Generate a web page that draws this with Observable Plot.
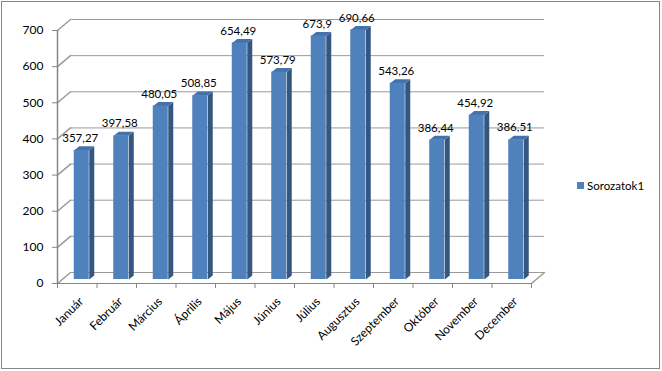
<!DOCTYPE html>
<html>
<head>
<meta charset="utf-8">
<script src="https://cdn.jsdelivr.net/npm/d3@7"></script>
<script src="https://cdn.jsdelivr.net/npm/@observablehq/plot@0.6"></script>
<style>
  html, body { margin: 0; padding: 0; background: #fff; }
  #wrap { position: relative; width: 662px; height: 371px; overflow: hidden; }
  #border { position: absolute; left: 1px; top: 1px; width: 657px; height: 366px; border: 1px solid #868686; }
  #chart { position: absolute; left: 0; top: 0; }
  #legend { position: absolute; left: 577px; top: 179px; font: 11.5px Lato, sans-serif; color: #000; display: flex; align-items: center; }
  #legend .sw { width: 7px; height: 7px; background: #4f81bd; margin-right: 3px; }
</style>
</head>
<body>
<div id="wrap">
  <div id="border"></div>
  <div id="chart"></div>
  <div id="legend"><span class="sw"></span><span>Sorozatok1</span></div>
</div>
<script>
const months = ["Január", "Február", "Március", "Április", "Május", "Június", "Július", "Augusztus", "Szeptember", "Október", "November", "December"];
const values = [357.27, 397.58, 480.05, 508.85, 654.49, 573.79, 673.9, 690.66, 543.26, 386.44, 454.92, 386.51];
const yTicks = [0, 100, 200, 300, 400, 500, 600, 700];
const seriesName = "Sorozatok1";

const data = months.map((m, i) => ({month: m, value: values[i]}));

const W = 662, H = 371, mL = 57, mR = 131, mT = 30, mB = 88;
const step = (W - mL - mR) / months.length;
const plotH = H - mT - mB;
const padIn = 0.62;
const bw = step * (1 - padIn);
const wall = [13, -11];          // depth of walls (px)
const wallLen = Math.hypot(wall[0], wall[1]);
const wallAngle = Math.atan2(wall[0], -wall[1]) * 180 / Math.PI;
const barOff = [4.5, -4];        // bar front face offset from front plane
const bd = [5, -4];              // bar depth
const tickLen = 5;

const gridColor = "#9a9a9a";
const axisColor = "#868686";
const frontColor = "#4f81bd";
const topColor = "#4472ad";
const sideColor = "#34577f";

const lineShape = {draw(ctx, l) { ctx.moveTo(0, 0); ctx.lineTo(0, -l); }};
const sideShape = {draw(ctx, l) {
  ctx.moveTo(0, 0); ctx.lineTo(0, -l); ctx.lineTo(bd[0], -l + bd[1]); ctx.lineTo(bd[0], bd[1]); ctx.closePath();
}};
const topShape = {draw(ctx) {
  ctx.moveTo(-bw / 2, 0); ctx.lineTo(-bw / 2 + bd[0], bd[1]); ctx.lineTo(bw / 2 + bd[0], bd[1]); ctx.lineTo(bw / 2, 0); ctx.closePath();
}};

const yMax = yTicks[yTicks.length - 1];
const tickBelow = -tickLen / plotH * yMax;

document.getElementById("legend").lastElementChild.textContent = seriesName;

const chart = Plot.plot({
  width: W, height: H,
  marginLeft: mL, marginRight: mR, marginTop: mT, marginBottom: mB,
  style: {fontFamily: "Lato, sans-serif", fontSize: "12px", color: "#000", background: "transparent"},
  x: {type: "band", domain: months, paddingInner: padIn, paddingOuter: padIn / 2, round: false, axis: null},
  y: {domain: [0, yMax], axis: null},
  length: {type: "linear", domain: [0, yMax], range: [0, plotH]},
  marks: [
    // back wall gridlines
    Plot.ruleY(yTicks, {y: d => d, dx: wall[0], dy: wall[1], stroke: gridColor}),
    // left wall diagonals
    Plot.vector(yTicks, {y: d => d, frameAnchor: "left", anchor: "start", length: wallLen, rotate: wallAngle, shape: lineShape, stroke: gridColor}),
    // floor right diagonal
    Plot.vector([0], {y: d => d, frameAnchor: "right", anchor: "start", length: wallLen, rotate: wallAngle, shape: lineShape, stroke: gridColor}),
    // front vertical axis line
    Plot.vector([0], {y: d => d, frameAnchor: "left", anchor: "start", length: plotH, rotate: 0, shape: lineShape, stroke: axisColor}),
    // front floor line
    Plot.ruleY([0], {stroke: axisColor}),
    // y axis
    Plot.axisY({ticks: yTicks, tickSize: tickLen, tickPadding: 9, stroke: axisColor, fontSize: 12, label: null}),
    // x ticks at band edges
    Plot.ruleX(months, {x: d => d, y1: 0, y2: tickBelow, dx: -step / 2, stroke: axisColor}),
    Plot.ruleX([months[months.length - 1]], {x: d => d, y1: 0, y2: tickBelow, dx: step / 2, stroke: axisColor}),
    Plot.axisX({tickRotate: -45, tickSize: 0, tickPadding: 16, dx: 4, fontSize: 12, label: null}),
    // bars: side faces, top faces, front faces
    Plot.vector(data, {x: "month", y: () => 0, length: "value", anchor: "start", rotate: 0, shape: sideShape,
      dx: barOff[0] + bw / 2, dy: barOff[1], fill: sideColor, stroke: "none"}),
    Plot.vector(data, {x: "month", y: "value", length: 1, anchor: "start", rotate: 0, shape: topShape,
      dx: barOff[0], dy: barOff[1], fill: topColor, stroke: "none"}),
    Plot.barY(data, {x: "month", y: "value", dx: barOff[0], dy: barOff[1], fill: frontColor}),
    // data labels
    Plot.text(data, {x: "month", y: "value", text: d => String(d.value).replace(".", ","), dx: 3, dy: -16, fontSize: 11.5, fill: "#000"})
  ]
});
document.getElementById("chart").appendChild(chart);
</script>
</body>
</html>
